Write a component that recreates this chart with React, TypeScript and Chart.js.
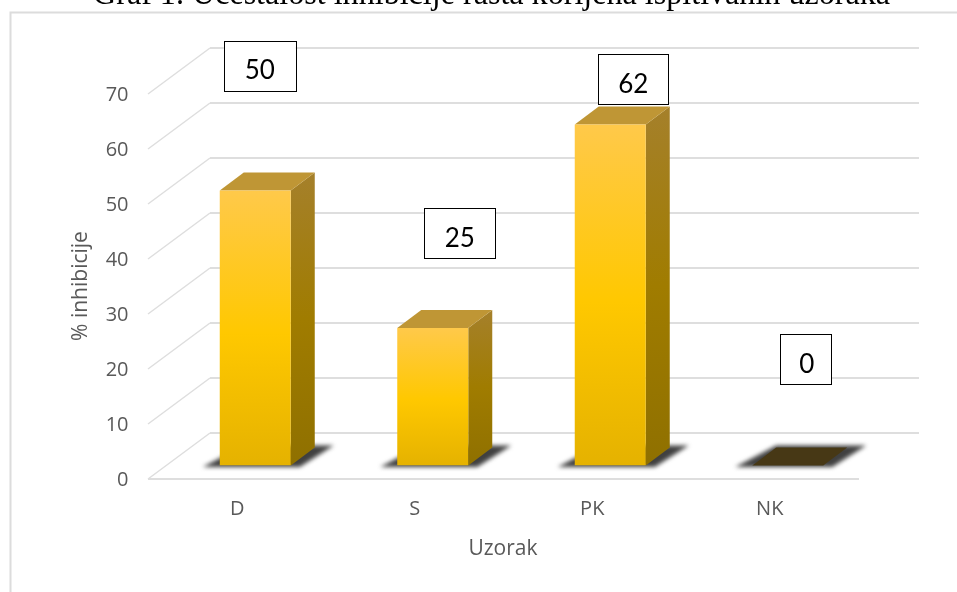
import React, { useEffect, useRef } from "react";
import { Chart, registerables } from "chart.js";

Chart.register(...registerables);

const titleText = "Graf 1. Učestalost inhibicije rasta korijena ispitivanih uzoraka";
const categories = ["D", "S", "PK", "NK"];
const inhibition = [50, 25, 62, 0];
const yTicksMax = 70;
const yTickStep = 10;
const xAxisTitle = "Uzorak";
const yAxisTitle = "% inhibicije";

const W = 957;
const H = 592;
const TOP = -24; // canvas starts above the page so the title is cut as in the source
const TITLE_SIZE = 33;
const PAD_LEFT = 93;
const PAD_RIGHT = 67;
const AREA = { left: 166.5, right: 876.5, top: 80.5 - TOP, bottom: 465.5 - TOP };
const FRONT = { dx: -18.5, dy: 13.5 };
const DEPTH = { dx: 24, dy: -18 };
const WALL = { dx: 43.5, dy: -32.5 };
const BOXES = [
  { dx: 4, dy: -150, w: 72 },
  { dx: 27, dy: -120, w: 71 },
  { dx: 23.5, dy: -70.5, w: 70 },
  { dx: 28, dy: -131.5, w: 51 },
];

function poly(c: CanvasRenderingContext2D, pts: number[][]) {
  c.beginPath();
  pts.forEach((p, i) => (i ? c.lineTo(p[0], p[1]) : c.moveTo(p[0], p[1])));
  c.closePath();
}

const scenePlugin = {
  id: "scene",
  beforeDatasetsDraw(chart: any) {
    const c: CanvasRenderingContext2D = chart.ctx;
    const y = chart.scales.y;
    const bars = chart.getDatasetMeta(0).data;
    c.save();
    // frame
    c.strokeStyle = "#dcdcdc";
    c.lineWidth = 2;
    c.beginPath();
    c.moveTo(10.5, H + 20 - TOP);
    c.lineTo(10.5, 12.5 - TOP);
    c.lineTo(W + 5, 12.5 - TOP);
    c.stroke();
    // grid
    const left = AREA.left + FRONT.dx;
    const wallX = left + 62;
    y.ticks.forEach((t: any) => {
      const p = y.getPixelForValue(t.value);
      const fy = p + FRONT.dy;
      const by = p + WALL.dy;
      c.strokeStyle = "#dedede";
      c.lineWidth = 2;
      c.beginPath();
      c.moveTo(wallX, by);
      c.lineTo(919, by);
      c.stroke();
      c.lineWidth = 1.5;
      c.beginPath();
      c.moveTo(left, fy);
      c.lineTo(wallX, by);
      c.stroke();
      if (t.value === 0) {
        c.lineWidth = 2;
        c.beginPath();
        c.moveTo(left, fy);
        c.lineTo(859, fy);
        c.stroke();
      }
    });
    // shadows, side and top faces
    bars.forEach((b: any, i: number) => {
      const l = b.x - b.width / 2;
      const r = b.x + b.width / 2;
      const base = b.base;
      c.save();
      c.filter = "blur(2px)";
      c.fillStyle = "#404040";
      poly(c, [
        [l - 17, base + 1.5],
        [r + 9, base + 1.5],
        [r + 43, base - 20],
        [l + 24, base - 20],
      ]);
      c.fill();
      c.restore();
      const top = b.y;
      if (inhibition[i] > 0) {
        const g = c.createLinearGradient(0, top + DEPTH.dy, 0, base);
        g.addColorStop(0, "#a5802b");
        g.addColorStop(0.5, "#a07c00");
        g.addColorStop(1, "#8f7000");
        c.fillStyle = g;
        poly(c, [
          [r, top],
          [r + DEPTH.dx, top + DEPTH.dy],
          [r + DEPTH.dx, base + DEPTH.dy],
          [r, base],
        ]);
        c.fill();
      }
      c.fillStyle = inhibition[i] > 0 ? "#bf9635" : "#473815";
      poly(c, [
        [l, top],
        [r, top],
        [r + DEPTH.dx, top + DEPTH.dy],
        [l + DEPTH.dx, top + DEPTH.dy],
      ]);
      c.fill();
    });
    c.restore();
  },
  afterDatasetsDraw(chart: any) {
    const c: CanvasRenderingContext2D = chart.ctx;
    const bars = chart.getDatasetMeta(0).data;
    c.save();
    // boxed value labels
    bars.forEach((b: any, i: number) => {
      const l = b.x - b.width / 2;
      const box = BOXES[i];
      const bx = l + box.dx;
      const by = b.y + box.dy;
      c.fillStyle = "#ffffff";
      c.strokeStyle = "#000000";
      c.lineWidth = 1;
      c.fillRect(bx, by, box.w, 50);
      c.strokeRect(Math.round(bx) + 0.5, Math.round(by) + 0.5, box.w, 50);
      c.fillStyle = "#000000";
      c.font = "26px Lato";
      c.textAlign = "center";
      c.textBaseline = "middle";
      c.fillText(String(inhibition[i]), bx + box.w / 2 + (i === 3 ? 1 : 0), by + 30.5);
    });
    // axis titles
    c.fillStyle = "#595959";
    c.font = "21px 'Open Sans'";
    c.textAlign = "center";
    c.textBaseline = "middle";
    c.fillText(xAxisTitle, 503, 549 - TOP);
    c.translate(81, 286 - TOP);
    c.rotate(-Math.PI / 2);
    c.fillText(yAxisTitle, 0, 0);
    c.restore();
  },
};

export default function App() {
  const ref = useRef<HTMLCanvasElement>(null);
  useEffect(() => {
    document.body.style.margin = "0";
    const chart = new Chart(ref.current!, {
      type: "bar",
      data: {
        labels: categories,
        datasets: [
          {
            label: "% inhibicije",
            data: inhibition,
            yAxisID: "y",
            barPercentage: 1,
            categoryPercentage: 0.4,
            borderWidth: 0,
            backgroundColor: (ctx: any) => {
              const chart = ctx.chart;
              const y = chart.scales.y;
              if (!y || ctx.dataIndex === undefined) return "#ffc800";
              const top = y.getPixelForValue(inhibition[ctx.dataIndex]);
              const base = y.getPixelForValue(0);
              if (!isFinite(top) || !isFinite(base)) return "#ffc800";
              if (base - top < 1) return "#473815";
              const g = chart.ctx.createLinearGradient(0, top, 0, base);
              g.addColorStop(0, "#ffc94a");
              g.addColorStop(0.52, "#ffc800");
              g.addColorStop(1, "#e5b200");
              return g;
            },
          },
        ],
      },
      options: {
        responsive: false,
        animation: false,
        layout: {
          padding: {
            left: PAD_LEFT,
            right: PAD_RIGHT,
            top: 0,
            bottom: 0,
          },
        },
        plugins: {
          legend: { display: false },
          tooltip: { enabled: false },
          title: {
            display: true,
            text: titleText,
            color: "#000000",
            font: { family: "'Liberation Serif'", size: TITLE_SIZE, weight: "normal" },
            padding: { top: 0, bottom: AREA.top - TITLE_SIZE * 1.2 },
            fullSize: true,
          },
        },
        scales: {
          x: {
            afterFit(s: any) {
              s.height = H - TOP - AREA.bottom;
            },
            grid: { display: false },
            border: { display: false },
            ticks: {
              color: "#595959",
              font: { family: "'Open Sans'", size: 20 },
              labelOffset: FRONT.dx + 0.5,
              padding: 24,
              maxRotation: 0,
            },
          },
          y: {
            min: 0,
            max: yTicksMax,
            afterFit(s: any) {
              s.width = AREA.left - PAD_LEFT;
            },
            grid: { display: false, drawTicks: false },
            border: { display: false },
            ticks: {
              stepSize: yTickStep,
              color: "#595959",
              font: { family: "'Open Sans'", size: 20 },
              labelOffset: FRONT.dy + 1.5,
              padding: 38,
            },
          },
          spacer: {
            axis: "y",
            position: "right",
            afterFit(s: any) {
              s.width = W - PAD_RIGHT - AREA.right;
            },
            grid: { display: false, drawTicks: false },
            border: { display: false },
            ticks: { display: false },
          },
        },
      } as any,
      plugins: [scenePlugin],
    } as any);
    return () => chart.destroy();
  }, []);
  return (
    <div style={{ position: "absolute", left: 0, top: 0, width: W, height: H, overflow: "hidden", background: "#fff" }}>
      <canvas ref={ref} width={W} height={H - TOP} style={{ position: "absolute", left: 0, top: TOP, display: "block" }} />
    </div>
  );
}
